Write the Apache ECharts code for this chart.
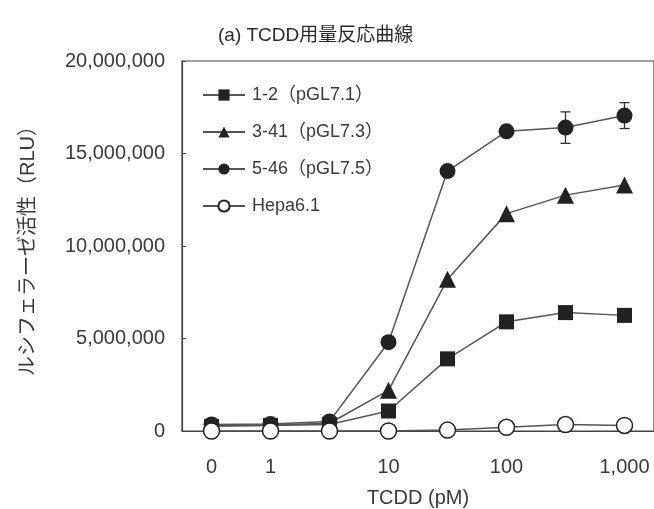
<!DOCTYPE html>
<html>
<head>
<meta charset="utf-8">
<script src="https://cdn.jsdelivr.net/npm/echarts@6/dist/echarts.min.js"></script>
<style>html,body{margin:0;padding:0;background:#fff;}#c{width:654px;height:509px;}</style>
</head>
<body>
<div id="c"></div>
<script>
var categories = ['0', '1', '3', '10', '30', '100', '300', '1000'];
var tickLabels = {'0': '0', '1': '1', '10': '10', '100': '100', '1000': '1,000'};
var seriesNames = ['1-2（pGL7.1）', '3-41（pGL7.3）', '5-46（pGL7.5）', 'Hepa6.1'];
var s12 = [250000, 300000, 350000, 1080000, 3900000, 5900000, 6400000, 6250000];
var s341 = [300000, 330000, 420000, 2200000, 8200000, 11750000, 12750000, 13300000];
var s546 = [350000, 380000, 520000, 4800000, 14050000, 16200000, 16400000, 17050000];
var hepa = [0, 0, 0, 0, 50000, 200000, 350000, 300000];
var err546 = [0, 0, 0, 0, 0, 0, 850000, 700000];

var FONT = 'Liberation Sans, Arial, "Noto Sans CJK JP", sans-serif';
var TXT = '#3a3a3a';
var LINE = '#555';
var MK = '#222';

var errData = [];
for (var i = 0; i < categories.length; i++) {
  if (err546[i] > 0) errData.push([i, s546[i], err546[i]]);
}

function lineSeries(name, data, symbol, size, filled) {
  return {
    name: name, type: 'line', data: data, symbol: symbol, symbolSize: size,
    lineStyle: {color: LINE, width: 1.5},
    itemStyle: {color: filled ? MK : '#fff', borderColor: MK, borderWidth: filled ? 0 : 1.5},
    emphasis: {disabled: true}
  };
}

var chart = echarts.init(document.getElementById('c'));
chart.setOption({
  backgroundColor: '#fff',
  animation: false,
  title: {
    text: '(a) TCDD用量反応曲線', left: 213, top: 21,
    textStyle: {fontFamily: FONT, fontSize: 19, fontWeight: 'normal', color: '#2a2a2a'}
  },
  legend: {
    orient: 'vertical', left: 197, top: 81, itemGap: 19, itemWidth: 42, itemHeight: 14,
    data: seriesNames,
    textStyle: {fontFamily: FONT, fontSize: 18, color: TXT, padding: [0, 0, 0, 2]}
  },
  grid: {left: 182, right: 0, top: 61, bottom: 78, outerBoundsMode: 'none', containLabel: false, show: true, borderColor: '#444', borderWidth: 1.2, backgroundColor: 'transparent'},
  xAxis: {
    type: 'category', data: categories, boundaryGap: true,
    axisLine: {lineStyle: {color: '#444', width: 1.2}},
    axisTick: {show: false},
    axisLabel: {
      interval: 0, margin: 26, fontFamily: FONT, fontSize: 20, color: TXT,
      formatter: function (v) { return tickLabels[v] || ''; }
    },
    name: 'TCDD (pM)', nameLocation: 'middle', nameGap: 57,
    nameTextStyle: {fontFamily: FONT, fontSize: 20, color: TXT}
  },
  yAxis: {
    type: 'value', min: 0, max: 20000000, interval: 5000000,
    axisLine: {show: true, lineStyle: {color: '#444', width: 1.2}},
    axisTick: {show: true, inside: true, length: 4, lineStyle: {color: '#444'}},
    splitLine: {show: false},
    axisLabel: {
      margin: 17, fontFamily: FONT, fontSize: 20, color: TXT,
      formatter: function (v) { return v.toLocaleString('en-US'); }
    },
    name: 'ルシフェラーゼ活性（RLU）', nameLocation: 'middle', nameRotate: 90, nameGap: 144,
    nameTextStyle: {fontFamily: FONT, fontSize: 20, color: TXT}
  },
  series: [
    lineSeries(seriesNames[0], s12, 'rect', 15, true),
    lineSeries(seriesNames[1], s341, 'triangle', 17, true),
    lineSeries(seriesNames[2], s546, 'circle', 16, true),
    {
      type: 'custom', data: errData, z: 1,
      renderItem: function (params, api) {
        var x = api.value(0), y = api.value(1), e = api.value(2);
        var hi = api.coord([x, y + e]);
        var lo = api.coord([x, y - e]);
        var w = 5;
        var st = {stroke: '#333', lineWidth: 1.3};
        return {type: 'group', children: [
          {type: 'line', shape: {x1: hi[0], y1: hi[1], x2: lo[0], y2: lo[1]}, style: st},
          {type: 'line', shape: {x1: hi[0] - w, y1: hi[1], x2: hi[0] + w, y2: hi[1]}, style: st},
          {type: 'line', shape: {x1: lo[0] - w, y1: lo[1], x2: lo[0] + w, y2: lo[1]}, style: st}
        ]};
      }
    },
    lineSeries(seriesNames[3], hepa, 'circle', 16, false)
  ]
});
</script>
</body>
</html>
